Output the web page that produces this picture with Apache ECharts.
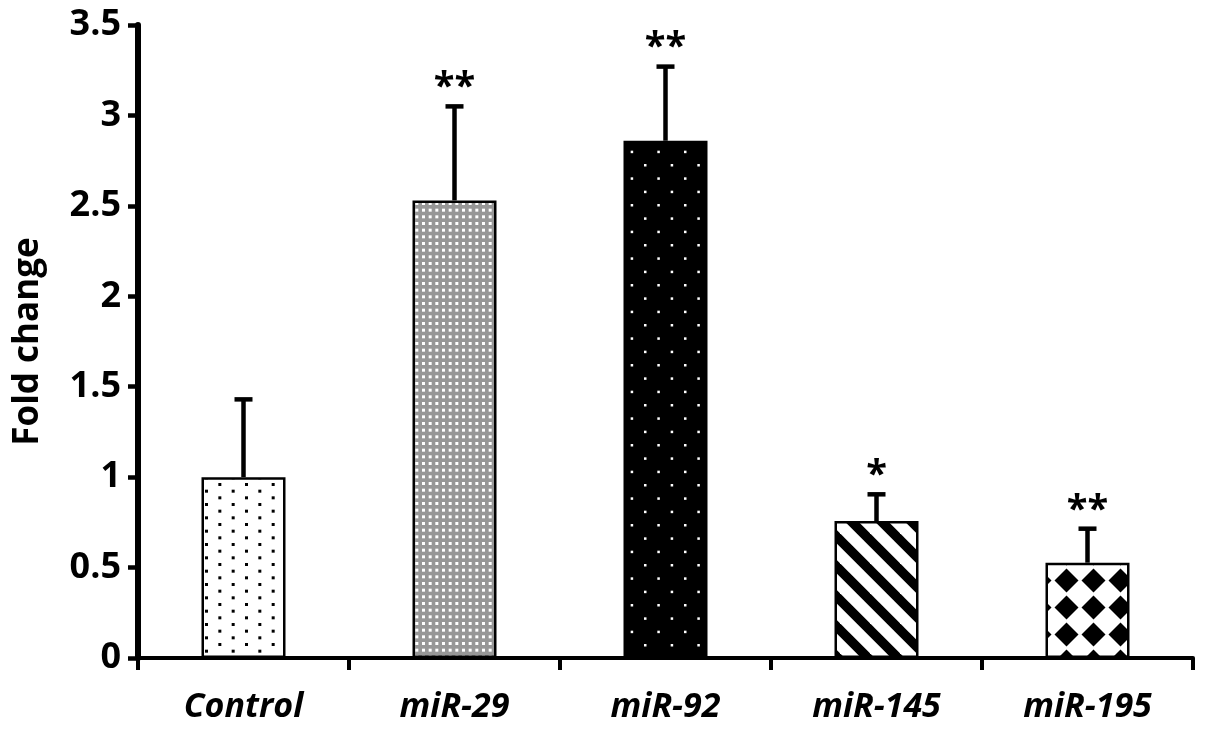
<!DOCTYPE html>
<html><head><meta charset="utf-8">
<script src="https://cdn.jsdelivr.net/npm/echarts@6/dist/echarts.min.js"></script>
<style>html,body{margin:0;padding:0;background:#fff}#c{width:1205px;height:733px}</style>
</head><body><div id="c"></div>
<script>
const categories = ['Control', 'miR-29', 'miR-92', 'miR-145', 'miR-195'];
const foldChange = [1.0, 2.53, 2.86, 0.757, 0.527];
const errorUpper = [1.43, 3.05, 3.27, 0.905, 0.715];
const significance = ['', '**', '**', '*', '**'];
const yMin = 0, yMax = 3.5, yInterval = 0.5;

function tile(w, h, draw) {
  const c = document.createElement('canvas');
  c.width = w; c.height = h;
  const ctx = c.getContext('2d');
  draw(ctx, w, h);
  return c;
}
// Control: white with staggered black dots
const patControl = tile(80, 40, (ctx, w, h) => {
  ctx.fillStyle = '#fff'; ctx.fillRect(0, 0, w, h);
  ctx.fillStyle = '#000';
  for (let i = 0; i < 3; i++) for (let j = 0; j < 3; j++) {
    ctx.fillRect(i * 26.67 + 5, j * 13.33 + 3, 3, 3);
    ctx.fillRect(i * 26.67 + 18.33, j * 13.33 + 9.67, 3, 3);
  }
});
// miR-29: gray with dense white dots
const pat29 = tile(20, 20, (ctx, w, h) => {
  ctx.fillStyle = '#979797'; ctx.fillRect(0, 0, w, h);
  ctx.fillStyle = '#fff';
  for (let i = 0; i < 3; i++) for (let j = 0; j < 3; j++) {
    ctx.fillRect(i * 6.67 + 2, j * 6.67 + 2, 3, 3);
  }
});
// miR-92: black with sparse white dots
const pat92 = tile(80, 80, (ctx, w, h) => {
  ctx.fillStyle = '#000'; ctx.fillRect(0, 0, w, h);
  ctx.fillStyle = '#fff';
  for (let i = 0; i < 3; i++) for (let j = 0; j < 3; j++) {
    ctx.fillRect(i * 26.67 + 4, j * 26.67 + 4, 2.5, 2.5);
    ctx.fillRect(i * 26.67 + 17.33, j * 26.67 + 17.33, 2.5, 2.5);
  }
});
// miR-145: diagonal stripes
const pat145 = tile(30, 30, (ctx, w, h) => {
  ctx.fillStyle = '#fff'; ctx.fillRect(0, 0, w, h);
  ctx.strokeStyle = '#000'; ctx.lineWidth = 9.5;
  for (const k of [-30, 0, 30]) {
    ctx.beginPath(); ctx.moveTo(-5, k - 5); ctx.lineTo(35, 35 + k); ctx.stroke();
  }
});
// miR-195: diamonds
const pat195 = tile(27, 27, (ctx, w, h) => {
  ctx.fillStyle = '#fff'; ctx.fillRect(0, 0, w, h);
  ctx.fillStyle = '#000';
  const cx = 13.5, cy = 13.5, r = 12;
  ctx.beginPath();
  ctx.moveTo(cx, cy - r); ctx.lineTo(cx + r, cy); ctx.lineTo(cx, cy + r); ctx.lineTo(cx - r, cy); ctx.closePath();
  ctx.fill();
});
const patterns = [patControl, pat29, pat92, pat145, pat195];

const FONT = '"Open Sans", Lato, sans-serif';
const chart = echarts.init(document.getElementById('c'));
chart.setOption({
  animation: false,
  backgroundColor: '#fff',
  grid: { left: 138, right: 12, top: 25, bottom: 75, containLabel: false, outerBoundsMode: 'none' },
  xAxis: {
    type: 'category',
    data: categories,
    axisLine: { lineStyle: { color: '#000', width: 4 } },
    axisTick: { show: true, length: 12, lineStyle: { color: '#000', width: 4 } },
    axisLabel: { color: '#000', fontSize: 34, fontWeight: 'bold', fontStyle: 'italic', fontFamily: FONT, margin: 32 },
    splitLine: { show: false }
  },
  yAxis: {
    type: 'value',
    min: yMin, max: yMax, interval: yInterval,
    name: 'Fold change',
    nameLocation: 'middle',
    nameGap: 92,
    nameRotate: 90,
    nameTextStyle: { color: '#000', fontSize: 35, fontWeight: 'bold', fontFamily: FONT },
    axisLine: { show: true, lineStyle: { color: '#000', width: 6 } },
    axisTick: { show: true, length: 10, lineStyle: { color: '#000', width: 4.5 } },
    axisLabel: { color: '#000', fontSize: 36, fontWeight: 'bold', fontFamily: FONT, margin: 17 },
    splitLine: { show: false }
  },
  series: [
    {
      type: 'bar',
      barWidth: 84,
      data: foldChange.map((v, i) => ({
        value: v,
        itemStyle: { color: { image: patterns[i], repeat: 'repeat' }, borderColor: '#000', borderWidth: 2.5 }
      })),
      z: 2
    },
    {
      type: 'custom',
      data: errorUpper.map((u, i) => [i, foldChange[i], u]),
      z: 3,
      renderItem: function (params, api) {
        const i = api.value(0);
        const lo = api.coord([i, api.value(1)]);
        const hi = api.coord([i, api.value(2)]);
        const capW = 18;
        const sig = significance[params.dataIndex];
        return {
          type: 'group',
          children: [
            { type: 'line', shape: { x1: lo[0], y1: lo[1], x2: hi[0], y2: hi[1] }, style: { stroke: '#000', lineWidth: 4.5 } },
            { type: 'line', shape: { x1: hi[0] - capW / 2, y1: hi[1], x2: hi[0] + capW / 2, y2: hi[1] }, style: { stroke: '#000', lineWidth: 4.5 } },
            { type: 'text', x: hi[0], y: hi[1] + 1, style: { text: sig, font: 'bold 38px ' + FONT, fill: '#000', align: 'center', verticalAlign: 'bottom' } }
          ]
        };
      }
    }
  ]
});
</script>
</body></html>
